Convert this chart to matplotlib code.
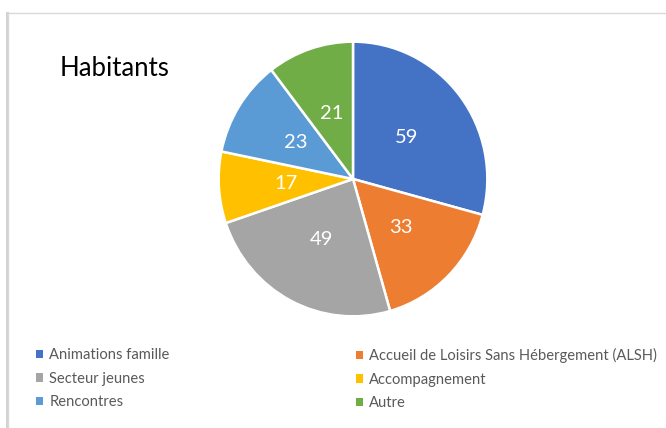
import matplotlib
matplotlib.use("Agg")
import matplotlib.pyplot as plt
from matplotlib.patches import Rectangle

# chart data
categories = ["Animations famille", "Accueil de Loisirs Sans Hébergement (ALSH)",
              "Secteur jeunes", "Accompagnement", "Rencontres", "Autre"]
values = [59, 33, 49, 17, 23, 21]
colors = ["#4472C4", "#ED7D31", "#A5A5A5", "#FFC000", "#5B9BD5", "#70AD47"]
title = "Habitants"

plt.rcParams['font.family'] = ['Lato', 'DejaVu Sans']

W, H = 666, 428
fig = plt.figure(figsize=(W / 100, H / 100), dpi=100)
fig.patch.set_facecolor("white")

# frame with a soft shadow on the left/top
fig.patches.append(Rectangle((6 / W, 0), 3 / W, (H - 12) / H, transform=fig.transFigure,
                             facecolor="#d4d4d4", edgecolor="none", zorder=-2))
fig.patches.append(Rectangle((8 / W, -0.01), (W - 6) / W, (H - 13) / H + 0.01,
                             transform=fig.transFigure, facecolor="white",
                             edgecolor="#d9d9d9", linewidth=1, zorder=-1))

# pie axes (center ~ (353,179) px, slightly squashed like the screenshot)
cx, cy, rx, ry = 353, 179, 135, 138
ax = fig.add_axes([(cx - rx) / W, (H - cy - ry) / H, 2 * rx / W, 2 * ry / H])
ax.set_zorder(2)
ax.patch.set_alpha(0)
wedges, texts = ax.pie(values, colors=colors, startangle=90, counterclock=False,
                       labels=[str(v) for v in values], labeldistance=0.5,
                       wedgeprops=dict(edgecolor="white", linewidth=1.8))
for t in texts:
    t.set_color("white")
    t.set_fontsize(14.5)
    t.set_ha("center")
    t.set_va("center")
ax.set_aspect("auto")
ax.set_xlim(-1.005, 1.005)
ax.set_ylim(-1.005, 1.005)
ax.axis("off")

fig.text(60 / W, 1 - 68 / H, title, fontsize=18.5, color="black", va="center", ha="left")

# legend in two columns, row-major order
leg_kw = dict(frameon=False, fontsize=10.6, handlelength=0.5, handleheight=0.5,
              handletextpad=0.4, labelspacing=0.66, borderaxespad=0, borderpad=0,
              labelcolor="#595959")
left_idx = [0, 2, 4]
right_idx = [1, 3, 5]
leg1 = fig.legend([wedges[i] for i in left_idx], [categories[i] for i in left_idx],
                  loc="upper left", bbox_to_anchor=(36 / W, 1 - 348 / H), **leg_kw)
leg2 = fig.legend([wedges[i] for i in right_idx], [categories[i] for i in right_idx],
                  loc="upper left", bbox_to_anchor=(356 / W, 1 - 348 / H), **leg_kw)
for leg in (leg1, leg2):
    for h in leg.legend_handles:
        h.set_edgecolor("none")

fig.savefig("out.png", dpi=100, facecolor="white")
